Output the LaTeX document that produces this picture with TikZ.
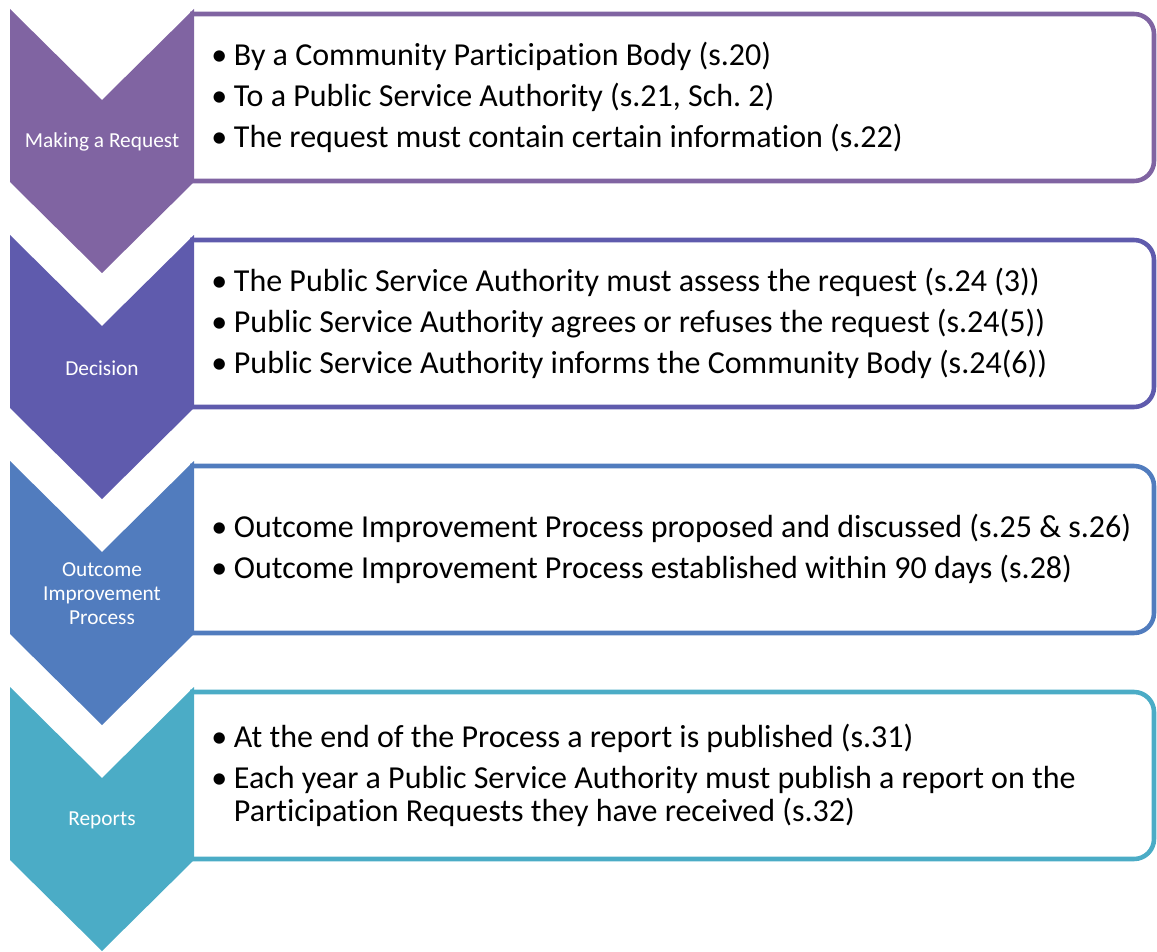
\documentclass[tikz,border=0pt]{standalone}
\usepackage{fontspec}
\setmainfont{Carlito}[Ligatures=CommonOff]
\usepackage{tikz}
\definecolor{makecol}{HTML}{8064A2}
\definecolor{decicol}{HTML}{5F5BAD}
\definecolor{outcol}{HTML}{517CBE}
\definecolor{repcol}{HTML}{4BACC6}
\newcommand{\itm}{\makebox[17pt][l]{\textbullet}}
\frenchspacing

\begin{document}
\begin{tikzpicture}[x=0.75pt,y=-0.75pt,
    boxline/.style={line width=3.4pt, rounded corners=15pt},
    stagelabel/.style={text=white, align=center, font=\fontsize{16}{18}\selectfont},
    stagetext/.style={anchor=west, align=left, inner sep=0pt, font=\fontsize{24}{24.75}\selectfont}]
        \useasboundingbox (0,0) rectangle (1157,952);
        %one chevron and one box per stage
        \foreach \n/\col/\lab/\txt in {
            0/makecol/{Making a Request}/{\itm By a Community Participation Body (s.20)\\[6pt]
                \itm To a Public Service Authority (s.21, Sch. 2)\\[6pt]
                \itm The request must contain certain information (s.22)},
            1/decicol/{Decision}/{\itm The Public Service Authority must assess the request (s.24 (3))\\[6pt]
                \itm Public Service Authority agrees or refuses the request (s.24(5))\\[6pt]
                \itm Public Service Authority informs the Community Body (s.24(6))},
            2/outcol/{Outcome\\Improvement\\Process}/{\itm Outcome Improvement Process proposed and discussed (s.25 \& s.26)\\[6pt]
                \itm Outcome Improvement Process established within 90 days (s.28)},
            3/repcol/{Reports}/{\itm At the end of the Process a report is published (s.31)\\[6pt]
                \itm Each year a Public Service Authority must publish a report on the\\
                \hspace*{17pt}Participation Requests they have received (s.32)}}{
            \pgfmathsetmacro{\t}{9+226*\n}
            \draw[boxline, draw=\col] (190,\t+5) -- (1154,\t+5) -- (1154,\t+172) -- (190,\t+172);
            \fill[\col] (10,\t) -- (102,\t+91) -- (194,\t) -- (194,\t+173) -- (102,\t+264) -- (10,\t+173) -- cycle;
            \node[stagelabel] (lab\n) at (102,\t+133) {\lab};
            \node[stagetext] (txt\n) at (211,\t+88) {\txt};
        }
    \end{tikzpicture}
\end{document}
